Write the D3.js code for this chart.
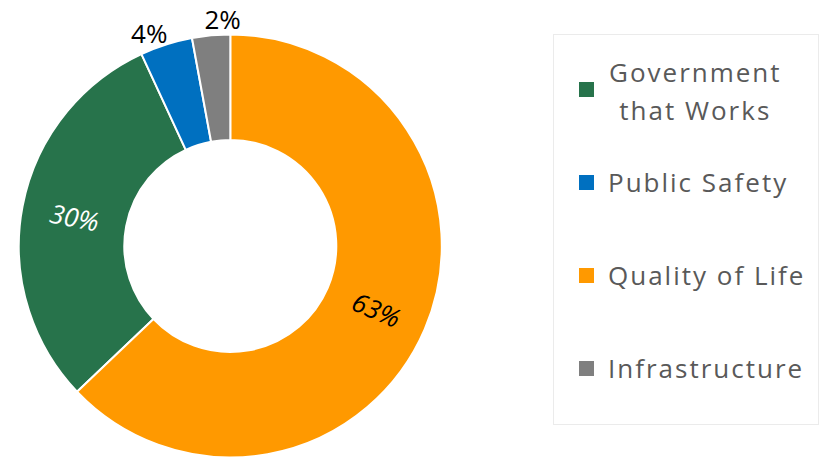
<!DOCTYPE html>
<html><head><meta charset="utf-8">
<script src="https://cdn.jsdelivr.net/npm/d3@7"></script>
<style>html,body{margin:0;padding:0;background:#fff;}svg{display:block;font-family:"Open Sans",sans-serif;}</style>
</head><body>
<svg id="chart" width="821" height="459"></svg>
<script>
// ---- data (legend order) ----
const categories = ["Government that Works", "Public Safety", "Quality of Life", "Infrastructure"];
const legendLines = [["Government", "that Works"], ["Public Safety"], ["Quality of Life"], ["Infrastructure"]];
const shares = [30.2, 4.0, 62.9, 2.9];
const shareLabels = ["30%", "4%", "63%", "2%"];
const colors = ["#27734B", "#0070C0", "#FF9900", "#7F7F7F"];
const sliceOrder = ["Quality of Life", "Government that Works", "Public Safety", "Infrastructure"]; // clockwise from 12 o'clock

const data = categories.map((c, i) => ({name: c, value: shares[i], label: shareLabels[i], color: colors[i], lines: legendLines[i]}));

const svg = d3.select("#chart");
const cx = 230.3, cy = 246, R = 211.5, r0 = 106;

const pie = d3.pie().value(d => d.value)
  .sort((a, b) => sliceOrder.indexOf(a.name) - sliceOrder.indexOf(b.name));
const arcs = pie(data);
const arc = d3.arc().innerRadius(r0).outerRadius(R);

const g = svg.append("g").attr("transform", `translate(${cx},${cy})`);
g.selectAll("path.slice").data(arcs).join("path")
  .attr("class", "slice")
  .attr("d", arc)
  .attr("fill", d => d.data.color)
  .attr("stroke", "#fff").attr("stroke-width", 2).attr("stroke-linejoin", "round");

// inside labels (large slices): rotated along the tangent
const inner = arcs.filter(d => d.data.value >= 10);
g.selectAll("text.in").data(inner).join("text")
  .attr("class", "in")
  .attr("transform", d => {
    const [x, y] = arc.centroid(d);
    const mid = (d.startAngle + d.endAngle) / 2 * 180 / Math.PI;
    let rot = mid - 90;
    if (rot > 90) rot -= 180;
    return `translate(${x},${y + 1.5}) rotate(${rot})`;
  })
  .attr("text-anchor", "middle").attr("dy", "0.36em")
  .attr("font-size", 26).attr("font-style", "italic")
  .attr("fill", d => d.data.name === "Government that Works" ? "#fff" : "#000")
  .text(d => d.data.label);

// outside labels (small slices), spread apart to avoid overlap
const outer = arcs.filter(d => d.data.value < 10).map(d => ({d, a: (d.startAngle + d.endAngle) / 2}));
const minSep = 19 * Math.PI / 180;
const meanA = d3.mean(outer, o => o.a);
outer.forEach((o, i) => {
  const off = (i - (outer.length - 1) / 2) * minSep;
  o.pa = Math.abs(outer[outer.length-1].a - outer[0].a) < minSep * (outer.length - 1) ? meanA + off : o.a;
});
const rl = 227;
g.selectAll("text.out").data(outer).join("text")
  .attr("class", "out")
  .attr("x", o => rl * Math.sin(o.pa))
  .attr("y", o => -rl * Math.cos(o.pa))
  .attr("text-anchor", "middle").attr("dy", "0.36em")
  .attr("font-size", 26).attr("fill", "#000")
  .text(o => o.d.data.label);

// legend
const lg = svg.append("g");
lg.append("rect").attr("x", 553.5).attr("y", 34.5).attr("width", 265).attr("height", 390)
  .attr("fill", "#fff").attr("stroke", "#EBEBEB").attr("stroke-width", 1);
const legendY = d3.scalePoint().domain(categories).range([89.5, 368.5]);
const sw = 15, textX = 608, lineH = 38;
categories.forEach((c, i) => {
  const d = data[i];
  const yc = legendY(c);
  lg.append("rect").attr("x", 579).attr("y", yc - sw / 2).attr("width", sw).attr("height", sw).attr("fill", d.color);
  const n = d.lines.length;
  const t = lg.append("text").attr("font-size", 26).attr("letter-spacing", 2).attr("fill", "#595959");
  const spans = d.lines.map((line, k) => t.append("tspan")
    .attr("y", yc + 9.5 + (k - (n - 1) / 2) * lineH + (n > 1 ? 1.5 : 0))
    .text(line));
  if (n > 1) {
    const maxW = d3.max(spans, s => s.node().getComputedTextLength());
    t.attr("text-anchor", "middle");
    spans.forEach(s => s.attr("x", textX + maxW / 2 + 1));
  } else {
    spans.forEach(s => s.attr("x", textX));
  }
});
</script>
</body></html>
